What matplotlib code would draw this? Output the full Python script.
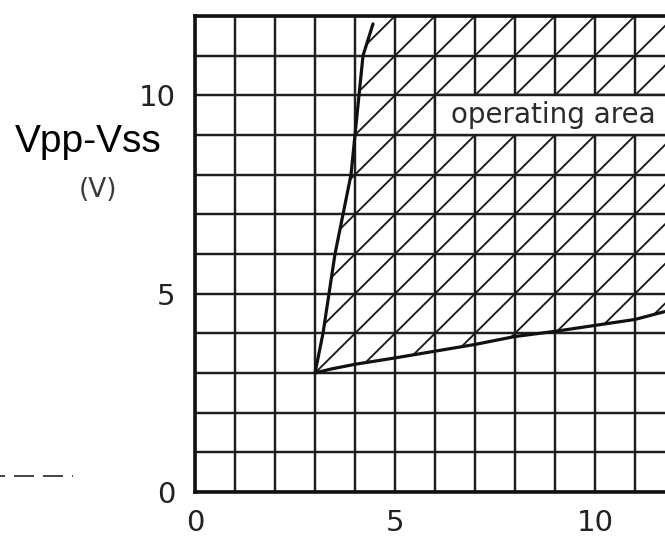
import numpy as np
import matplotlib
matplotlib.use('Agg')
import matplotlib.pyplot as plt
from matplotlib.patches import Polygon, Rectangle
from matplotlib.ticker import MultipleLocator

plt.rcParams['lines.scale_dashes'] = False

# boundary of the operating area
left_x = [3.0, 3.2, 3.35, 3.5, 3.7, 3.9, 4.0, 4.1, 4.2, 4.45]
left_y = [3.0, 4.0, 5.0, 6.0, 7.0, 8.0, 9.0, 10.0, 11.0, 11.8]
low_x = [3.0, 3.4, 4.0, 5.0, 6.0, 7.0, 8.0, 9.0, 10.0, 11.0, 11.75]
low_y = [3.0, 3.1, 3.22, 3.38, 3.55, 3.72, 3.92, 4.05, 4.2, 4.35, 4.55]

x_ticks = [0, 5, 10]
y_ticks = [0, 5, 10]
label_text = "operating area"

# stray dashed mark left of the chart (scan leftover)
stray_x = [-4.875, -3.05]
stray_y = [0.4, 0.4]

grid_col = '#1e1e1e'

fig = plt.figure(figsize=(6.65, 5.38), dpi=100)
ax = fig.add_axes([195/665, 46/538, 470/665, 476/538])
ax.set_xlim(0, 11.75)
ax.set_ylim(0, 12)

# grid every 1 V
ax.xaxis.set_minor_locator(MultipleLocator(1))
ax.yaxis.set_minor_locator(MultipleLocator(1))
ax.set_xticks(x_ticks)
ax.set_yticks(y_ticks)
ax.grid(which='both', color=grid_col, lw=1.75)
ax.set_axisbelow(True)
ax.tick_params(which='both', length=0, labelsize=21, labelcolor='#222222')
ax.tick_params(axis='x', pad=12)
ax.tick_params(axis='y', pad=14)
for s in ['left', 'bottom', 'top']:
    ax.spines[s].set_linewidth(2.6)
    ax.spines[s].set_color('#111111')
ax.spines['right'].set_visible(False)

# hatched region
px = list(left_x) + [4.55, 12.5, 12.5] + list(low_x[::-1])
py = list(left_y) + [12.5, 12.5, 4.65] + list(low_y[::-1])
region = Polygon(np.column_stack([px, py]), closed=True, facecolor='none',
                 edgecolor='none', transform=ax.transData)
ax.add_patch(region)
for c in np.arange(-12, 13):
    ln, = ax.plot([0, 13], [c, c + 13], color='#1a1a1a', lw=1.35, zorder=1)
    ln.set_clip_path(region)

# boundary curves
ax.plot(left_x, left_y, color='#111111', lw=2.3, zorder=4, solid_capstyle='round')
ax.plot(low_x, low_y, color='#111111', lw=2.3, zorder=4, solid_capstyle='round')

# label box
ax.add_patch(Rectangle((6, 9), 7, 1, facecolor='white', edgecolor=grid_col,
                       lw=1.75, zorder=2))
ax.text(6.4, 9.5, label_text, fontsize=20, color='#2b2b2b', va='center',
        ha='left', zorder=5)

# axis title
fig.text(88/665, 1 - 152/538, "Vpp-Vss", fontsize=28, family='Liberation Sans',
         ha='center', va='baseline', color='black')
fig.text(98/665, 1 - 190/538, "(V)", fontsize=19, ha='center', va='center',
         color='#3a3a3a')

ax.plot(stray_x, stray_y, color='#111111', lw=1.1, clip_on=False,
        ls=(10.8, (14.4, 6.5)))

fig.savefig('out.png', dpi=100)
